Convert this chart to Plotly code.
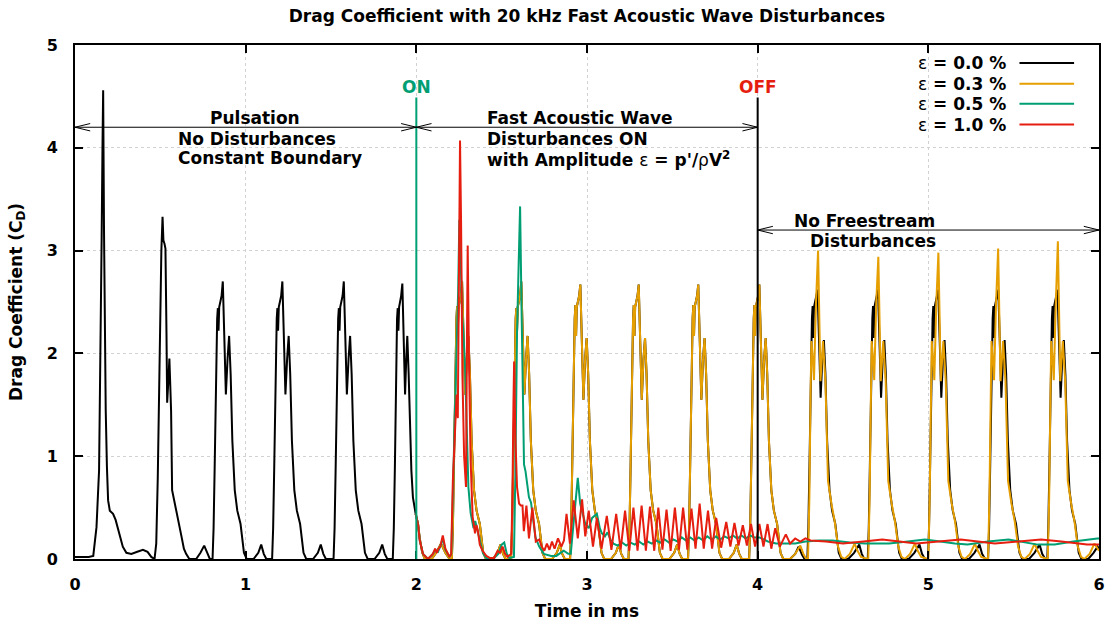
import plotly.graph_objects as go

# ---------------- data (time in ms, drag coefficient) ----------------
# eps = 0.0 %, pulsation phase 0 - 2 ms
black_pulsation = [
    (0.000, 0.02), (0.080, 0.02), (0.107, 0.03), (0.126, 0.31), (0.141, 0.86), (0.150, 2.00),
    (0.156, 3.10), (0.161, 4.00), (0.165, 4.56), (0.170, 3.20), (0.176, 2.00), (0.180, 1.45),
    (0.187, 0.90), (0.194, 0.57), (0.204, 0.47), (0.223, 0.44), (0.238, 0.38), (0.250, 0.30),
    (0.262, 0.22), (0.280, 0.12), (0.301, 0.06), (0.330, 0.05), (0.365, 0.07), (0.398, 0.09),
    (0.425, 0.07), (0.447, 0.02), (0.466, 0.00),
    (0.476, 0.15), (0.485, 0.79), (0.492, 1.60), (0.499, 2.41), (0.506, 3.00), (0.513, 3.33),
    (0.518, 3.10), (0.524, 3.07), (0.530, 3.02), (0.536, 2.20), (0.540, 1.52), (0.546, 1.70),
    (0.553, 1.95), (0.558, 1.70), (0.563, 1.44), (0.569, 0.67), (0.582, 0.57), (0.602, 0.41),
    (0.617, 0.28), (0.625, 0.21), (0.638, 0.10), (0.651, 0.05), (0.670, 0.00), (0.710, 0.00),
    (0.735, 0.06), (0.757, 0.13), (0.775, 0.06), (0.790, 0.00),
    (0.806, 0.00), (0.812, 0.30), (0.818, 0.86), (0.825, 1.83), (0.833, 2.34), (0.837, 2.44),
    (0.841, 2.22), (0.845, 2.45), (0.852, 2.50), (0.859, 2.56), (0.866, 2.70), (0.875, 2.10),
    (0.884, 1.60), (0.894, 1.95), (0.903, 2.17), (0.912, 1.80), (0.922, 1.15), (0.936, 0.67),
    (0.951, 0.47), (0.970, 0.34), (0.980, 0.21), (0.990, 0.06), (1.006, 0.00), (1.046, 0.00),
    (1.074, 0.06), (1.091, 0.14), (1.106, 0.05), (1.121, 0.00),
    (1.155, 0.00), (1.161, 0.30), (1.167, 0.86), (1.174, 1.83), (1.182, 2.34), (1.186, 2.44),
    (1.190, 2.22), (1.194, 2.45), (1.201, 2.50), (1.208, 2.56), (1.215, 2.70), (1.224, 2.10),
    (1.233, 1.60), (1.243, 1.95), (1.252, 2.17), (1.261, 1.80), (1.271, 1.15), (1.285, 0.67),
    (1.300, 0.47), (1.319, 0.34), (1.329, 0.21), (1.339, 0.06), (1.355, 0.00), (1.395, 0.00),
    (1.423, 0.06), (1.440, 0.14), (1.455, 0.05), (1.470, 0.00),
    (1.515, 0.00), (1.521, 0.30), (1.527, 0.86), (1.534, 1.83), (1.542, 2.34), (1.546, 2.44),
    (1.550, 2.22), (1.554, 2.45), (1.561, 2.50), (1.568, 2.56), (1.575, 2.70), (1.584, 2.10),
    (1.593, 1.60), (1.603, 1.95), (1.612, 2.17), (1.621, 1.80), (1.631, 1.15), (1.645, 0.67),
    (1.660, 0.47), (1.679, 0.34), (1.689, 0.21), (1.699, 0.06), (1.715, 0.00), (1.755, 0.00),
    (1.783, 0.06), (1.800, 0.14), (1.815, 0.05), (1.830, 0.00),
    (1.862, 0.00), (1.868, 0.30), (1.874, 0.86), (1.880, 1.83), (1.887, 2.34), (1.891, 2.44),
    (1.895, 2.22), (1.899, 2.45), (1.905, 2.50), (1.911, 2.56), (1.918, 2.68), (1.926, 2.10),
    (1.934, 1.60), (1.941, 1.95), (1.947, 2.17), (1.955, 1.80), (1.963, 1.20), (1.971, 0.86),
    (1.980, 0.60), (1.990, 0.47),
]

# 2 - 4.15 ms: eps = 0.0 % and eps = 0.3 % coincide
shared_disturbed = [
    (1.996, 0.44), (2.010, 0.34), (2.020, 0.20), (2.035, 0.06), (2.050, 0.00), (2.090, 0.00),
    (2.120, 0.07), (2.145, 0.15), (2.170, 0.06), (2.195, 0.00),
    (2.208, 0.00), (2.214, 0.30), (2.220, 0.86), (2.227, 1.83), (2.235, 2.34), (2.239, 2.46),
    (2.243, 2.22), (2.247, 2.45), (2.254, 2.50), (2.261, 2.56), (2.268, 2.70), (2.277, 2.10),
    (2.286, 1.60), (2.296, 1.95), (2.305, 2.17), (2.314, 1.80), (2.324, 1.15), (2.338, 0.67),
    (2.353, 0.47), (2.372, 0.34), (2.382, 0.21), (2.392, 0.06), (2.408, 0.00), (2.448, 0.00),
    (2.476, 0.06), (2.493, 0.14), (2.508, 0.05), (2.523, 0.00),
    (2.555, 0.00), (2.561, 0.30), (2.567, 0.86), (2.574, 1.83), (2.582, 2.34), (2.586, 2.44),
    (2.590, 2.22), (2.594, 2.45), (2.601, 2.50), (2.608, 2.56), (2.615, 2.70), (2.624, 2.10),
    (2.633, 1.60), (2.643, 1.95), (2.652, 2.17), (2.661, 1.80), (2.671, 1.15), (2.685, 0.67),
    (2.700, 0.47), (2.719, 0.34), (2.729, 0.21), (2.739, 0.06), (2.755, 0.00), (2.795, 0.00),
    (2.823, 0.06), (2.840, 0.14), (2.855, 0.05), (2.870, 0.00),
    (2.901, 0.00), (2.907, 0.30), (2.913, 0.86), (2.920, 1.83), (2.928, 2.34), (2.932, 2.47),
    (2.936, 2.17), (2.940, 2.45), (2.947, 2.50), (2.954, 2.56), (2.961, 2.67), (2.970, 2.10),
    (2.979, 1.55), (2.989, 1.95), (2.998, 2.15), (3.007, 1.80), (3.017, 1.15), (3.031, 0.67),
    (3.046, 0.47), (3.065, 0.34), (3.075, 0.21), (3.085, 0.06), (3.101, 0.00), (3.141, 0.00),
    (3.169, 0.06), (3.186, 0.14), (3.201, 0.05), (3.216, 0.00),
    (3.243, 0.00), (3.249, 0.30), (3.255, 0.86), (3.262, 1.83), (3.270, 2.34), (3.274, 2.47),
    (3.278, 2.17), (3.282, 2.45), (3.289, 2.50), (3.296, 2.56), (3.303, 2.67), (3.312, 2.10),
    (3.321, 1.55), (3.331, 1.95), (3.340, 2.15), (3.349, 1.80), (3.359, 1.15), (3.373, 0.67),
    (3.388, 0.47), (3.407, 0.34), (3.417, 0.21), (3.427, 0.06), (3.443, 0.00), (3.483, 0.00),
    (3.511, 0.06), (3.528, 0.14), (3.543, 0.05), (3.558, 0.00),
    (3.592, 0.00), (3.598, 0.30), (3.604, 0.86), (3.611, 1.83), (3.619, 2.34), (3.623, 2.47),
    (3.627, 2.17), (3.631, 2.45), (3.638, 2.50), (3.645, 2.56), (3.652, 2.67), (3.661, 2.10),
    (3.670, 1.55), (3.680, 1.95), (3.689, 2.15), (3.698, 1.80), (3.708, 1.15), (3.722, 0.67),
    (3.737, 0.47), (3.756, 0.34), (3.766, 0.21), (3.776, 0.06), (3.792, 0.00), (3.832, 0.00),
    (3.860, 0.06), (3.877, 0.14), (3.892, 0.05), (3.907, 0.00),
    (3.950, 0.00), (3.956, 0.30), (3.962, 0.86), (3.969, 1.83), (3.977, 2.34), (3.981, 2.47),
    (3.985, 2.17), (3.989, 2.45), (3.996, 2.50), (4.003, 2.56), (4.010, 2.67), (4.019, 2.10),
    (4.028, 1.55), (4.038, 1.95), (4.047, 2.15), (4.056, 1.80), (4.066, 1.15), (4.080, 0.67),
    (4.095, 0.47), (4.114, 0.34), (4.124, 0.21), (4.134, 0.06), (4.150, 0.00),
]

# 4.15 - 6 ms, eps = 0.0 %
black_free = [
    (4.190, 0.00), (4.220, 0.05), (4.240, 0.12), (4.260, 0.04), (4.275, 0.00),
    (4.291, 0.00), (4.297, 0.30), (4.303, 0.86), (4.310, 1.83), (4.318, 2.34), (4.322, 2.46),
    (4.326, 2.15), (4.330, 2.45), (4.337, 2.50), (4.344, 2.56), (4.351, 2.62), (4.360, 2.10),
    (4.369, 1.57), (4.379, 1.95), (4.388, 2.13), (4.397, 1.80), (4.407, 1.15), (4.421, 0.67),
    (4.436, 0.47), (4.455, 0.34), (4.465, 0.21), (4.475, 0.06), (4.491, 0.00), (4.531, 0.00),
    (4.565, 0.06), (4.595, 0.14), (4.610, 0.05), (4.625, 0.00),
    (4.645, 0.00), (4.651, 0.30), (4.657, 0.86), (4.664, 1.83), (4.672, 2.34), (4.676, 2.46),
    (4.680, 2.15), (4.684, 2.45), (4.691, 2.50), (4.698, 2.56), (4.705, 2.62), (4.714, 2.10),
    (4.723, 1.57), (4.733, 1.95), (4.742, 2.13), (4.751, 1.80), (4.761, 1.15), (4.775, 0.67),
    (4.790, 0.47), (4.809, 0.34), (4.819, 0.21), (4.829, 0.06), (4.845, 0.00), (4.885, 0.00),
    (4.918, 0.06), (4.948, 0.14), (4.963, 0.05), (4.980, 0.00),
    (4.998, 0.00), (5.004, 0.30), (5.010, 0.86), (5.017, 1.83), (5.025, 2.34), (5.029, 2.46),
    (5.033, 2.15), (5.037, 2.45), (5.044, 2.50), (5.051, 2.56), (5.058, 2.62), (5.067, 2.10),
    (5.076, 1.57), (5.086, 1.95), (5.095, 2.13), (5.104, 1.80), (5.114, 1.15), (5.128, 0.67),
    (5.143, 0.47), (5.162, 0.34), (5.172, 0.21), (5.182, 0.06), (5.198, 0.00), (5.238, 0.00),
    (5.270, 0.06), (5.300, 0.14), (5.315, 0.05), (5.333, 0.00),
    (5.350, 0.00), (5.356, 0.30), (5.362, 0.86), (5.369, 1.83), (5.377, 2.34), (5.381, 2.46),
    (5.385, 2.15), (5.389, 2.45), (5.396, 2.50), (5.403, 2.56), (5.410, 2.62), (5.419, 2.10),
    (5.428, 1.57), (5.438, 1.95), (5.447, 2.13), (5.456, 1.80), (5.466, 1.15), (5.480, 0.67),
    (5.495, 0.47), (5.514, 0.34), (5.524, 0.21), (5.534, 0.06), (5.550, 0.00), (5.590, 0.00),
    (5.622, 0.06), (5.652, 0.14), (5.667, 0.05), (5.685, 0.00),
    (5.697, 0.00), (5.703, 0.30), (5.709, 0.86), (5.716, 1.83), (5.724, 2.34), (5.728, 2.46),
    (5.732, 2.15), (5.736, 2.45), (5.743, 2.50), (5.750, 2.56), (5.757, 2.62), (5.766, 2.10),
    (5.775, 1.57), (5.785, 1.95), (5.794, 2.13), (5.803, 1.80), (5.813, 1.15), (5.827, 0.67),
    (5.842, 0.47), (5.861, 0.34), (5.871, 0.21), (5.881, 0.06), (5.897, 0.00), (5.937, 0.00),
    (5.968, 0.06), (5.992, 0.12), (6.000, 0.10),
]

# 4.15 - 6 ms, eps = 0.3 %
orange_free = [
    (4.190, 0.00), (4.220, 0.05), (4.250, 0.13), (4.270, 0.04), (4.285, 0.00),
    (4.295, 0.00), (4.303, 0.60), (4.310, 1.60), (4.315, 2.12), (4.323, 1.95), (4.330, 1.74),
    (4.342, 2.50), (4.354, 3.00), (4.368, 1.73), (4.383, 2.12), (4.397, 1.73), (4.405, 1.20),
    (4.412, 0.76), (4.432, 0.54), (4.451, 0.37), (4.471, 0.12), (4.490, 0.02), (4.510, 0.00),
    (4.540, 0.05), (4.568, 0.15), (4.585, 0.08), (4.605, 0.02), (4.640, 0.00),
    (4.648, 0.00), (4.656, 0.60), (4.663, 1.60), (4.668, 2.12), (4.676, 1.95), (4.683, 1.74),
    (4.695, 2.50), (4.707, 2.94), (4.721, 1.73), (4.736, 2.12), (4.750, 1.73), (4.758, 1.20),
    (4.765, 0.76), (4.785, 0.54), (4.804, 0.37), (4.824, 0.12), (4.843, 0.02), (4.863, 0.00),
    (4.893, 0.05), (4.921, 0.15), (4.938, 0.08), (4.958, 0.02), (4.993, 0.00),
    (5.000, 0.00), (5.008, 0.60), (5.015, 1.60), (5.020, 2.12), (5.028, 1.95), (5.035, 1.74),
    (5.047, 2.50), (5.059, 2.98), (5.073, 1.73), (5.088, 2.12), (5.102, 1.73), (5.110, 1.20),
    (5.117, 0.76), (5.137, 0.54), (5.156, 0.37), (5.176, 0.12), (5.195, 0.02), (5.215, 0.00),
    (5.245, 0.05), (5.273, 0.15), (5.290, 0.08), (5.310, 0.02), (5.345, 0.00),
    (5.350, 0.00), (5.358, 0.60), (5.365, 1.60), (5.370, 2.12), (5.378, 1.95), (5.385, 1.74),
    (5.397, 2.50), (5.409, 3.02), (5.423, 1.73), (5.438, 2.12), (5.452, 1.73), (5.460, 1.20),
    (5.467, 0.76), (5.487, 0.54), (5.506, 0.37), (5.526, 0.12), (5.545, 0.02), (5.565, 0.00),
    (5.595, 0.05), (5.623, 0.15), (5.640, 0.08), (5.660, 0.02), (5.695, 0.00),
    (5.700, 0.00), (5.708, 0.60), (5.715, 1.60), (5.720, 2.12), (5.728, 1.95), (5.735, 1.74),
    (5.747, 2.50), (5.759, 3.09), (5.773, 1.73), (5.788, 2.12), (5.802, 1.73), (5.810, 1.20),
    (5.817, 0.76), (5.837, 0.54), (5.856, 0.37), (5.876, 0.12), (5.895, 0.02), (5.915, 0.00),
    (5.945, 0.05), (5.973, 0.15), (5.990, 0.10), (6.000, 0.08),
]

# eps = 0.5 %
green_series = [
    (1.996, 0.44), (2.010, 0.34), (2.020, 0.18), (2.039, 0.05), (2.068, 0.00), (2.097, 0.05),
    (2.110, 0.09), (2.127, 0.07), (2.140, 0.12), (2.155, 0.20), (2.170, 0.09), (2.195, 0.02),
    (2.205, 0.05), (2.214, 0.70), (2.225, 1.30), (2.235, 2.00), (2.245, 2.60), (2.252, 3.30),
    (2.260, 2.90), (2.268, 2.40), (2.277, 2.15), (2.285, 1.90), (2.295, 1.30), (2.305, 0.70),
    (2.318, 0.45), (2.335, 0.30), (2.345, 0.37), (2.360, 0.26), (2.375, 0.18), (2.390, 0.06),
    (2.410, 0.01), (2.450, 0.00), (2.480, 0.05), (2.500, 0.14), (2.515, 0.16), (2.530, 0.05),
    (2.545, 0.01), (2.572, 0.02), (2.580, 0.80), (2.590, 2.20), (2.600, 2.90), (2.608, 3.43),
    (2.615, 2.60), (2.622, 1.60), (2.631, 0.92), (2.640, 0.85), (2.650, 0.73), (2.660, 0.60),
    (2.672, 0.55), (2.685, 0.40), (2.698, 0.21), (2.720, 0.12), (2.747, 0.05), (2.790, 0.03),
    (2.820, 0.03), (2.845, 0.06), (2.864, 0.08), (2.890, 0.05), (2.905, 0.05), (2.913, 0.20),
    (2.930, 0.55), (2.946, 0.79), (2.960, 0.54), (2.975, 0.45), (2.990, 0.34), (3.010, 0.30),
    (3.030, 0.40), (3.058, 0.44), (3.075, 0.30), (3.087, 0.25), (3.105, 0.22), (3.120, 0.26),
    (3.140, 0.18), (3.155, 0.15), (3.180, 0.13), (3.205, 0.16), (3.230, 0.13), (3.255, 0.16),
    (3.280, 0.14), (3.305, 0.17), (3.330, 0.14), (3.355, 0.17), (3.380, 0.15), (3.405, 0.18),
    (3.430, 0.16), (3.455, 0.19), (3.480, 0.16), (3.505, 0.19), (3.530, 0.17), (3.555, 0.21),
    (3.580, 0.18), (3.605, 0.21), (3.630, 0.18), (3.655, 0.21), (3.680, 0.18), (3.705, 0.22),
    (3.730, 0.19), (3.755, 0.22), (3.780, 0.19), (3.805, 0.22), (3.830, 0.20), (3.855, 0.23),
    (3.880, 0.20), (3.905, 0.23), (3.930, 0.20), (3.955, 0.23), (3.980, 0.21), (4.010, 0.21),
    (4.060, 0.17), (4.107, 0.15), (4.160, 0.15), (4.220, 0.15), (4.280, 0.17), (4.360, 0.18),
    (4.440, 0.18), (4.540, 0.16), (4.630, 0.15), (4.700, 0.15), (4.770, 0.15), (4.880, 0.17),
    (4.980, 0.19), (5.070, 0.17), (5.155, 0.15), (5.230, 0.14), (5.350, 0.17), (5.470, 0.19),
    (5.560, 0.16), (5.640, 0.14), (5.740, 0.14), (5.850, 0.17), (5.990, 0.20), (6.000, 0.20),
]

# eps = 1.0 %
red_series = [
    (1.996, 0.44), (2.010, 0.34), (2.020, 0.18), (2.039, 0.05), (2.068, 0.00), (2.097, 0.05),
    (2.110, 0.10), (2.120, 0.06), (2.130, 0.10), (2.140, 0.12), (2.155, 0.23), (2.170, 0.10),
    (2.195, 0.02), (2.204, 0.05), (2.214, 0.76), (2.229, 1.47), (2.236, 1.60), (2.243, 1.37),
    (2.250, 2.80), (2.256, 4.07), (2.262, 3.30), (2.270, 1.80), (2.280, 1.00), (2.291, 0.70),
    (2.296, 2.00), (2.301, 3.05), (2.308, 2.00), (2.318, 0.96), (2.330, 0.41), (2.337, 0.30),
    (2.344, 0.25), (2.352, 0.33), (2.360, 0.28), (2.372, 0.14), (2.388, 0.08), (2.410, 0.03),
    (2.430, 0.01), (2.456, 0.01), (2.476, 0.08), (2.490, 0.06), (2.505, 0.12), (2.520, 0.05),
    (2.534, 0.02), (2.556, 0.05), (2.563, 0.60), (2.569, 1.50), (2.573, 1.92), (2.580, 1.20),
    (2.590, 0.70), (2.602, 0.54), (2.612, 0.52), (2.622, 0.52), (2.630, 0.27), (2.645, 0.52),
    (2.660, 0.20), (2.680, 0.50), (2.700, 0.17), (2.720, 0.19), (2.735, 0.12), (2.750, 0.08),
    (2.765, 0.15), (2.780, 0.09), (2.795, 0.17), (2.810, 0.10), (2.830, 0.20), (2.850, 0.12),
    (2.865, 0.18), (2.880, 0.44), (2.900, 0.15), (2.922, 0.57), (2.946, 0.20), (2.971, 0.58),
    (2.990, 0.22), (3.010, 0.47), (3.035, 0.12), (3.058, 0.40), (3.085, 0.10), (3.116, 0.42),
    (3.143, 0.09), (3.171, 0.44), (3.197, 0.09), (3.223, 0.47), (3.248, 0.08), (3.272, 0.50),
    (3.296, 0.08), (3.320, 0.52), (3.345, 0.08), (3.369, 0.51), (3.394, 0.08), (3.418, 0.50),
    (3.442, 0.09), (3.466, 0.48), (3.490, 0.08), (3.515, 0.50), (3.539, 0.09), (3.563, 0.50),
    (3.588, 0.09), (3.612, 0.49), (3.636, 0.10), (3.660, 0.54), (3.684, 0.10), (3.709, 0.47),
    (3.733, 0.10), (3.757, 0.40), (3.786, 0.11), (3.816, 0.36), (3.840, 0.12), (3.864, 0.35),
    (3.888, 0.13), (3.913, 0.33), (3.937, 0.13), (3.961, 0.34), (3.985, 0.12), (4.010, 0.34),
    (4.034, 0.12), (4.058, 0.34), (4.080, 0.10), (4.103, 0.30), (4.130, 0.12), (4.165, 0.24),
    (4.190, 0.15), (4.220, 0.20), (4.250, 0.17), (4.280, 0.20), (4.310, 0.18), (4.400, 0.17),
    (4.500, 0.15), (4.620, 0.17), (4.730, 0.19), (4.830, 0.17), (4.930, 0.15), (5.060, 0.17),
    (5.190, 0.19), (5.290, 0.17), (5.390, 0.15), (5.530, 0.17), (5.660, 0.19), (5.780, 0.17),
    (5.930, 0.14), (6.000, 0.14),
]

series_names = ["ε = 0.0 %", "ε = 0.3 %", "ε = 0.5 %", "ε = 1.0 %"]
series_colors = ["#000000", "#e69f00", "#009e73", "#e51e10"]
x_ticks = [0, 1, 2, 3, 4, 5, 6]
y_ticks = [0, 1, 2, 3, 4, 5]

# ---------------- figure ----------------
FONT = "DejaVu Sans"
TXT = 17
series_points = [
    black_pulsation + shared_disturbed + black_free,
    shared_disturbed + orange_free,
    green_series,
    red_series,
]

fig = go.Figure()
for name, color, pts in zip(series_names, series_colors, series_points):
    fig.add_trace(go.Scatter(
        x=[p[0] for p in pts], y=[p[1] for p in pts], mode="lines", name=name,
        line=dict(color=color, width=2), showlegend=False,
    ))

shapes = []
annotations = []

# ON / OFF markers
shapes.append(dict(type="line", xref="x", yref="y", x0=2, x1=2, y0=0, y1=4.49,
                   line=dict(color="#009e73", width=2)))
shapes.append(dict(type="line", xref="x", yref="y", x0=4, x1=4, y0=0, y1=4.49,
                   line=dict(color="#000000", width=2)))
annotations.append(dict(x=2, y=4.59, xref="x", yref="y", text="ON", showarrow=False,
                        font=dict(color="#009e73", size=TXT), xanchor="center", yanchor="middle"))
annotations.append(dict(x=4, y=4.59, xref="x", yref="y", text="OFF", showarrow=False,
                        font=dict(color="#e51e10", size=TXT), xanchor="center", yanchor="middle"))

# double-headed open arrows
hx, hy = 0.089, 0.036


def double_arrow(x0, x1, y):
    shapes.append(dict(type="line", xref="x", yref="y", x0=x0, x1=x1, y0=y, y1=y,
                       line=dict(color="black", width=1)))
    shapes.append(dict(type="path", xref="x", yref="y",
                       path=f"M {x0+hx},{y+hy} L {x0},{y} L {x0+hx},{y-hy}",
                       line=dict(color="black", width=1)))
    shapes.append(dict(type="path", xref="x", yref="y",
                       path=f"M {x1-hx},{y+hy} L {x1},{y} L {x1-hx},{y-hy}",
                       line=dict(color="black", width=1)))


double_arrow(0, 2, 4.2)
double_arrow(2, 4, 4.2)
double_arrow(4, 6, 3.2)

THIN = '<span style="font-weight:normal">{}</span>'
labels = [
    (1.054, 4.29, "Pulsation", "center"),
    (0.594, 4.09, "No Disturbances", "left"),
    (0.594, 3.90, "Constant Boundary", "left"),
    (2.400, 4.29, "Fast Acoustic Wave", "left"),
    (2.400, 4.09, "Disturbances ON", "left"),
    (2.400, 3.89, "with Amplitude " + THIN.format("ε") + " = p'/" + THIN.format("ρ") + "V<sup>2</sup>", "left"),
    (4.200, 3.29, "No Freestream", "left"),
    (4.293, 3.09, "Disturbances", "left"),
]
for lx, ly, txt, anc in labels:
    annotations.append(dict(x=lx, y=ly, xref="x", yref="y", text=txt, showarrow=False,
                            xanchor=anc, yanchor="middle", font=dict(size=TXT)))

# gnuplot-style key: text right-aligned, sample line to the right
key_y = [4.826, 4.623, 4.429, 4.226]
for name, color, ky in zip(series_names, series_colors, key_y):
    key_text = THIN.format(name[0]) + name[1:]
    annotations.append(dict(x=5.464, y=ky, xref="x", yref="y", text=key_text, showarrow=False,
                            xanchor="right", yanchor="middle", font=dict(size=TXT)))
    shapes.append(dict(type="line", xref="x", yref="y", x0=5.534, x1=5.854, y0=ky, y1=ky,
                       line=dict(color=color, width=2)))

W, H = 1112, 625
fig.update_layout(
    width=W, height=H,
    margin=dict(l=75, r=7, t=45, b=63),
    paper_bgcolor="white", plot_bgcolor="white",
    font=dict(family=FONT, size=16, color="black", weight="bold"),
    title=dict(text="Drag Coefficient with 20 kHz Fast Acoustic Wave Disturbances",
               x=0.5, xref="paper", y=1 - 16 / H, yref="container", yanchor="middle",
               font=dict(size=17, family=FONT, color="black", weight="bold")),
    shapes=shapes, annotations=annotations, showlegend=False,
)
fig.update_xaxes(
    range=[0, 6], tickvals=x_ticks, ticktext=[str(v) for v in x_ticks],
    showline=True, linecolor="black", linewidth=2, mirror="ticks",
    ticks="inside", ticklen=8, tickwidth=2, tickcolor="black",
    showgrid=True, gridcolor="#d2d2d2", griddash="dot", gridwidth=1, zeroline=False,
    ticklabelstandoff=10,
    title=dict(text="Time in ms", standoff=12, font=dict(size=TXT)),
)
fig.update_yaxes(
    range=[0, 5], tickvals=y_ticks, ticktext=[str(v) for v in y_ticks],
    showline=True, linecolor="black", linewidth=2, mirror="ticks",
    ticks="inside", ticklen=8, tickwidth=2, tickcolor="black",
    showgrid=True, gridcolor="#d2d2d2", griddash="dot", gridwidth=1, zeroline=False,
    ticklabelstandoff=12,
    title=dict(text="Drag Coefficient (C<sub>D</sub>)", standoff=20, font=dict(size=TXT)),
)

# make the page exactly the size of the 1112x625 figure (no default margin, no overflow)
page_fit = (
    "document.documentElement.style.margin='0';"
    "document.documentElement.style.overflow='hidden';"
    "document.body.style.margin='0';"
    "document.body.style.height='625px';"
    "document.body.style.overflow='hidden';"
)
fig.write_html("out.html", config={"displayModeBar": False}, post_script=page_fit)
